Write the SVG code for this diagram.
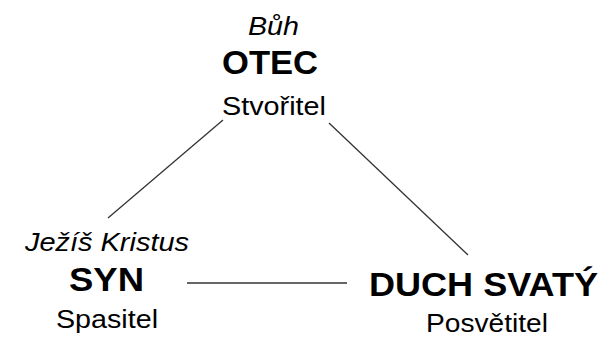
<svg xmlns="http://www.w3.org/2000/svg" width="603" height="337" viewBox="0 0 603 337">
<style>
text{font-family:"Liberation Sans",Arial,sans-serif;fill:#000}
.i{font-style:italic;font-size:26px}
.b{font-weight:bold;font-size:34px}
.r{font-size:26.5px}
.c{stroke:#333;stroke-width:1.3;fill:none}
</style>
<rect width="603" height="337" fill="#fff"/>
<g id="connectors">
<line class="c" x1="223" y1="120" x2="108" y2="218"/>
<line class="c" x1="329" y1="123" x2="468" y2="255"/>
<line class="c" x1="187" y1="283" x2="347" y2="283"/>
</g>
<g id="otec">
<text class="i" x="248" y="35" textLength="51" lengthAdjust="spacingAndGlyphs">Bůh</text>
<text class="b" x="222" y="74" textLength="96" lengthAdjust="spacingAndGlyphs">OTEC</text>
<text class="r" x="222" y="115" textLength="104" lengthAdjust="spacingAndGlyphs">Stvořitel</text>
</g>
<g id="syn">
<text class="i" x="25" y="251" textLength="164" lengthAdjust="spacingAndGlyphs">Ježíš Kristus</text>
<text class="b" x="69" y="291" textLength="75" lengthAdjust="spacingAndGlyphs">SYN</text>
<text class="r" x="56" y="328" textLength="102" lengthAdjust="spacingAndGlyphs">Spasitel</text>
</g>
<g id="duch">
<text class="b" x="369" y="296" textLength="229" lengthAdjust="spacingAndGlyphs">DUCH SVATÝ</text>
<text class="r" x="426" y="332" textLength="122" lengthAdjust="spacingAndGlyphs">Posvětitel</text>
</g>
</svg>
